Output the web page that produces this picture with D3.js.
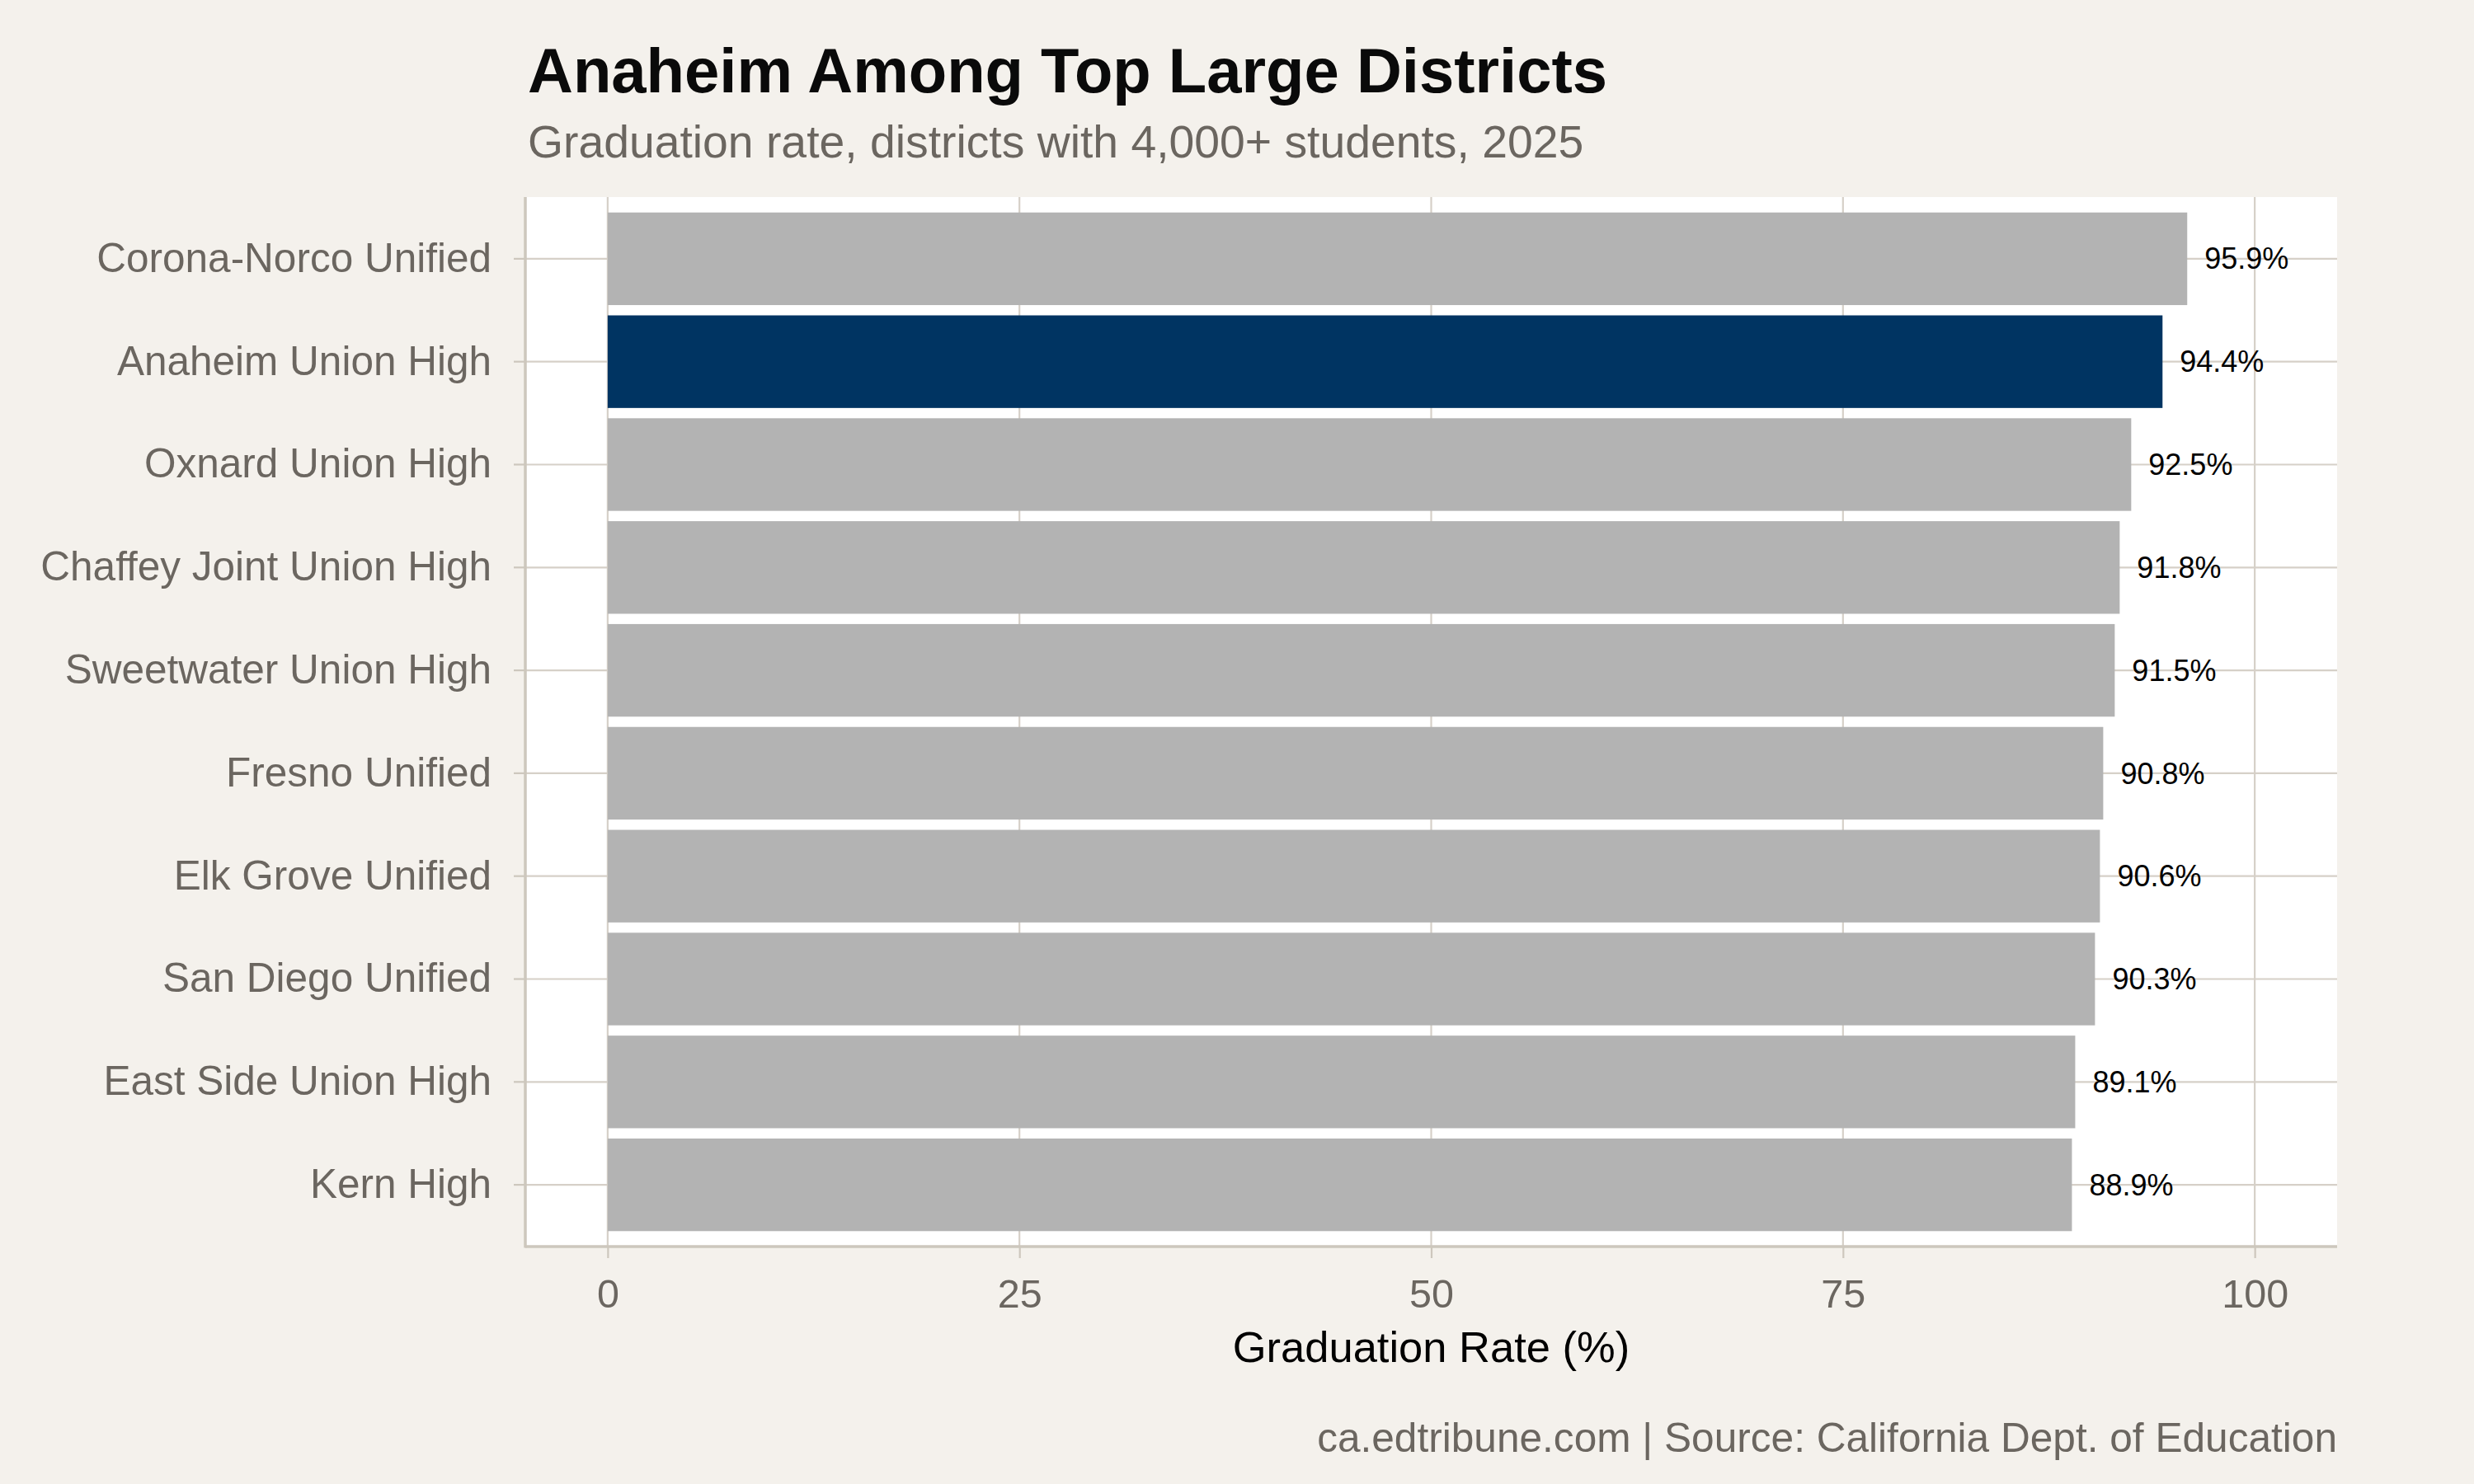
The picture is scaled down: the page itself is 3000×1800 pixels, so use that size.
<!DOCTYPE html>
<html>
<head>
<meta charset="utf-8">
<script src="https://cdn.jsdelivr.net/npm/d3@7"></script>
<style>
  html, body { margin: 0; padding: 0; background: #f4f1ec; }
  svg text { font-family: "Liberation Sans", Arial, Helvetica, sans-serif; }
</style>
</head>
<body>
<svg id="chart" width="3000" height="1800"></svg>
<script>

var districts = [
	"Corona-Norco Unified",
	"Anaheim Union High",
	"Oxnard Union High",
	"Chaffey Joint Union High",
	"Sweetwater Union High",
	"Fresno Unified",
	"Elk Grove Unified",
	"San Diego Unified",
	"East Side Union High",
	"Kern High"
];

var gradRates = [95.9, 94.4, 92.5, 91.8, 91.5, 90.8, 90.6, 90.3, 89.1, 88.9];

var highlighted = "Anaheim Union High";

var xTicks = [0, 25, 50, 75, 100];

var titleText = "Anaheim Among Top Large Districts";
var subtitleText = "Graduation rate, districts with 4,000+ students, 2025";
var xAxisTitle = "Graduation Rate (%)";
var captionText = "ca.edtribune.com | Source: California Dept. of Education";

(function() {

	var svg = d3.select("#chart");

	var panel = {left: 637, right: 2834, top: 239, bottom: 1512};

	var gridColor = "#d6d0c8";
	var axisColor = "#cdc7bd";
	var textGray = "#6b6660";

	var rows = districts.map(function(d, i) {
		return {name: d, value: gradRates[i]};
	});

	var xScale = d3.scaleLinear()
		.domain([-5, 105])
		.range([panel.left, panel.right]);

	var yScale = d3.scaleBand()
		.domain(districts)
		.range([panel.top, panel.bottom])
		.paddingInner(0.1)
		.paddingOuter(0.15);

	// background
	svg.append("rect")
		.attr("width", 3000)
		.attr("height", 1800)
		.attr("fill", "#f4f1ec");

	// panel
	svg.append("rect")
		.attr("x", panel.left)
		.attr("y", panel.top)
		.attr("width", panel.right - panel.left)
		.attr("height", panel.bottom - panel.top)
		.attr("fill", "#ffffff");

	// grid lines
	var grid = svg.append("g").attr("class", "grid");

	grid.selectAll("line.vgrid")
		.data(xTicks)
		.enter()
		.append("line")
		.attr("class", "vgrid")
		.attr("x1", d => xScale(d))
		.attr("x2", d => xScale(d))
		.attr("y1", panel.top)
		.attr("y2", panel.bottom)
		.attr("stroke", gridColor)
		.attr("stroke-width", 2.2);

	grid.selectAll("line.hgrid")
		.data(districts)
		.enter()
		.append("line")
		.attr("class", "hgrid")
		.attr("x1", panel.left)
		.attr("x2", panel.right)
		.attr("y1", d => yScale(d) + yScale.bandwidth() / 2)
		.attr("y2", d => yScale(d) + yScale.bandwidth() / 2)
		.attr("stroke", gridColor)
		.attr("stroke-width", 2.2);

	// bars
	svg.append("g")
		.selectAll("rect.bar")
		.data(rows)
		.enter()
		.append("rect")
		.attr("class", "bar")
		.attr("x", xScale(0))
		.attr("y", d => yScale(d.name))
		.attr("width", d => xScale(d.value) - xScale(0))
		.attr("height", yScale.bandwidth())
		.attr("fill", d => d.name == highlighted ? "#003462" : "#b3b3b3");

	// value labels
	svg.append("g")
		.selectAll("text.value")
		.data(rows)
		.enter()
		.append("text")
		.attr("class", "value")
		.attr("x", d => xScale(d.value) + 21)
		.attr("y", d => yScale(d.name) + yScale.bandwidth() / 2)
		.attr("dy", "0.35em")
		.attr("font-size", 36)
		.attr("fill", "#000000")
		.text(d => d.value.toFixed(1) + "%");

	// x axis
	var xAxis = svg.append("g")
		.attr("transform", "translate(0," + panel.bottom + ")")
		.call(d3.axisBottom(xScale)
			.tickValues(xTicks)
			.tickSize(14)
			.tickPadding(26)
			.tickFormat(d3.format("d")));

	xAxis.select(".domain").remove();
	xAxis.selectAll(".tick line").attr("stroke", axisColor).attr("stroke-width", 2.2);
	xAxis.selectAll(".tick text")
		.attr("font-size", 48.5)
		.attr("fill", textGray)
		.attr("font-family", "Liberation Sans, Arial, sans-serif");

	// y axis
	var yAxis = svg.append("g")
		.attr("transform", "translate(" + panel.left + ",0)")
		.call(d3.axisLeft(yScale)
			.tickSize(14)
			.tickPadding(27));

	yAxis.select(".domain").remove();
	yAxis.selectAll(".tick line").attr("stroke", axisColor).attr("stroke-width", 2.2);
	yAxis.selectAll(".tick text")
		.attr("font-size", 49.5)
		.attr("fill", textGray)
		.attr("font-family", "Liberation Sans, Arial, sans-serif");

	// axis lines
	svg.append("line")
		.attr("x1", panel.left)
		.attr("x2", panel.left)
		.attr("y1", panel.top)
		.attr("y2", panel.bottom + 1.5)
		.attr("stroke", axisColor)
		.attr("stroke-width", 3.5);

	svg.append("line")
		.attr("x1", panel.left)
		.attr("x2", panel.right)
		.attr("y1", panel.bottom)
		.attr("y2", panel.bottom)
		.attr("stroke", axisColor)
		.attr("stroke-width", 3.5);

	// axis title
	svg.append("text")
		.attr("x", (panel.left + panel.right) / 2)
		.attr("y", 1652)
		.attr("text-anchor", "middle")
		.attr("font-size", 52.5)
		.attr("fill", "#000000")
		.text(xAxisTitle);

	// titles
	svg.append("text")
		.attr("x", 640)
		.attr("y", 112)
		.attr("font-size", 76)
		.attr("font-weight", "bold")
		.attr("fill", "#0a0a0a")
		.text(titleText);

	svg.append("text")
		.attr("x", 640)
		.attr("y", 191)
		.attr("font-size", 55.3)
		.attr("fill", textGray)
		.text(subtitleText);

	// caption
	svg.append("text")
		.attr("x", panel.right)
		.attr("y", 1761)
		.attr("text-anchor", "end")
		.attr("font-size", 49.6)
		.attr("fill", textGray)
		.text(captionText);

})();

</script>
</body>
</html>
